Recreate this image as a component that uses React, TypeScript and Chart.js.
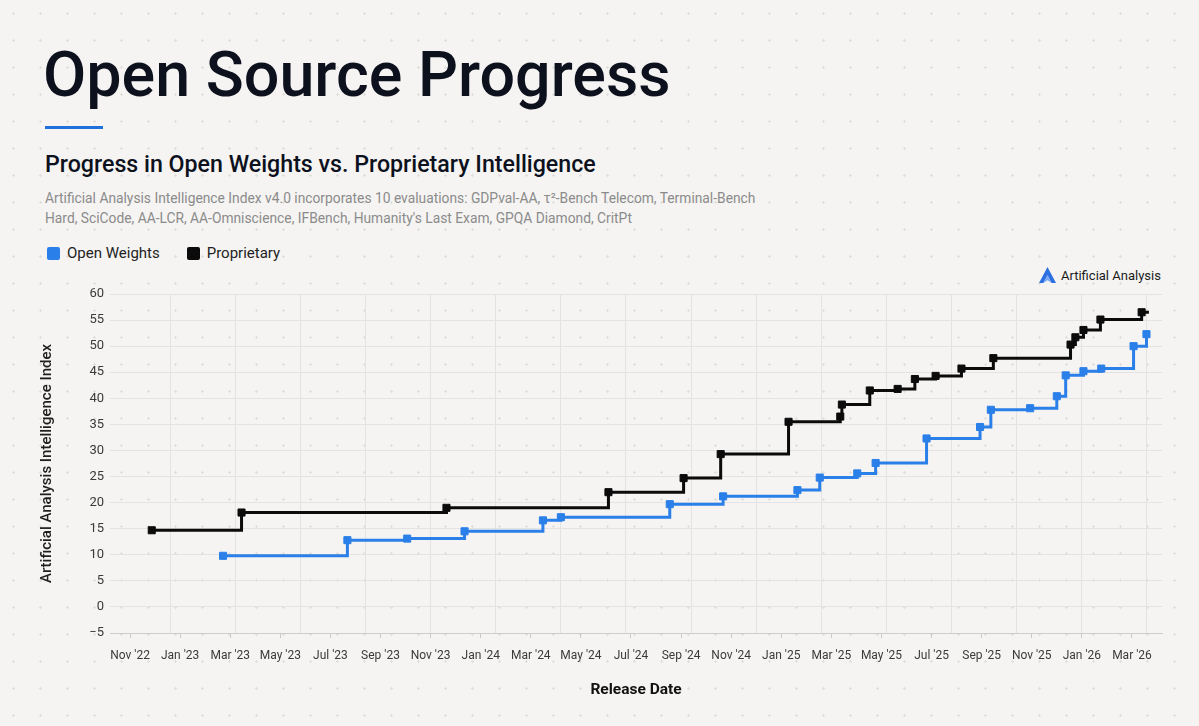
import React, { useEffect, useRef } from "react";
import { Chart, registerables } from "chart.js";

Chart.register(...registerables);

// ---- Data ----
const openWeightsDates = [
  "2023-02-21", "2023-07-22", "2023-10-03", "2023-12-12", "2024-03-16", "2024-04-07",
  "2024-08-18", "2024-10-22", "2025-01-21", "2025-02-16", "2025-04-02", "2025-04-24",
  "2025-06-25", "2025-08-30", "2025-09-12", "2025-10-30", "2025-12-01", "2025-12-12",
  "2026-01-03", "2026-01-25", "2026-03-03", "2026-03-19",
];
const openWeightsValues = [
  9.8, 12.8, 13.1, 14.5, 16.6, 17.2,
  19.7, 21.2, 22.4, 24.8, 25.6, 27.6,
  32.3, 34.5, 37.8, 38.1, 40.4, 44.4,
  45.2, 45.7, 50.0, 52.3,
];

const proprietaryDates = [
  "2022-11-27", "2023-03-15", "2023-11-20", "2024-06-04", "2024-09-04", "2024-10-19",
  "2025-01-10", "2025-03-12", "2025-03-14", "2025-04-17", "2025-05-21", "2025-06-11",
  "2025-07-06", "2025-08-07", "2025-09-15", "2025-12-18", "2025-12-24", "2026-01-03",
  "2026-01-24", "2026-03-13", "2026-03-22",
];
const proprietaryValues = [
  14.7, 18.1, 19.0, 22.0, 24.7, 29.3,
  35.5, 36.5, 38.8, 41.5, 41.8, 43.7,
  44.3, 45.7, 47.7, 50.3, 51.7, 53.1,
  55.1, 56.5, 56.5,
];

const xTickLabels = [
  "Nov '22", "Jan '23", "Mar '23", "May '23", "Jul '23", "Sep '23", "Nov '23",
  "Jan '24", "Mar '24", "May '24", "Jul '24", "Sep '24", "Nov '24",
  "Jan '25", "Mar '25", "May '25", "Jul '25", "Sep '25", "Nov '25",
  "Jan '26", "Mar '26",
];

const FONT = 'Roboto, "Noto Sans", Arial, sans-serif';

// months since 1 Nov 2022 (fractional)
function monthIndex(d: string): number {
  const [y, m, day] = d.split("-").map(Number);
  const dim = new Date(y, m, 0).getDate();
  return (y - 2022) * 12 + (m - 11) + (day - 1) / dim;
}

const X_MIN = -0.8;
const X_MAX = 41.2;

export default function App() {
  const canvasRef = useRef<HTMLCanvasElement | null>(null);

  useEffect(() => {
    const canvas = canvasRef.current;
    if (!canvas) return;
    const openData = openWeightsDates.map((d, i) => ({ x: monthIndex(d), y: openWeightsValues[i] }));
    const propData = proprietaryDates.map((d, i) => ({ x: monthIndex(d), y: proprietaryValues[i] }));
    const lastProp = propData.length - 1;

    const chart = new Chart(canvas, {
      type: "line",
      data: {
        datasets: [
          {
            label: "Open Weights",
            data: openData,
            borderColor: "#2a7fe8",
            backgroundColor: "#2a7fe8",
            borderWidth: 3,
            stepped: "before",
            pointStyle: "rect",
            pointRadius: 5,
            pointBorderWidth: 1,
            pointBorderColor: "#2a7fe8",
            pointBackgroundColor: "#2a7fe8",
          },
          {
            label: "Proprietary",
            data: propData,
            borderColor: "#0b0b0b",
            backgroundColor: "#0b0b0b",
            borderWidth: 3,
            stepped: "before",
            pointStyle: "rect",
            pointRadius: (ctx: any) => (ctx.dataIndex === lastProp ? 0 : 5),
            pointBorderWidth: 1,
            pointBorderColor: "#0b0b0b",
            pointBackgroundColor: "#0b0b0b",
          },
        ],
      },
      options: {
        animation: false,
        responsive: false,
        maintainAspectRatio: false,
        layout: { padding: { left: 30, right: 37, top: 14, bottom: 13 } },
        plugins: {
          legend: { display: false },
          tooltip: { enabled: false },
        },
        scales: {
          x: {
            type: "linear",
            position: "bottom",
            min: X_MIN,
            max: X_MAX,
            afterBuildTicks: (s: any) => {
              s.ticks = xTickLabels.map((_, i) => ({ value: i * 2 }));
            },
            afterFit: (s: any) => {
              s.height = 80;
            },
            ticks: {
              autoSkip: false,
              maxRotation: 0,
              padding: 11,
              color: "#3a3a3a",
              font: { family: FONT, size: 12 },
              callback: (v: any) => xTickLabels[Math.round(Number(v) / 2)] ?? "",
            },
            grid: { drawOnChartArea: false, tickLength: 5, color: "#c9c9c9" },
            border: { display: true, color: "#cdcdcd" },
            title: {
              display: true,
              text: "Release Date",
              color: "#111111",
              font: { family: FONT, size: 15.5, weight: "bold" },
              padding: { top: 0, bottom: 14 },
            },
          },
          xg: {
            type: "linear",
            position: "bottom",
            min: X_MIN,
            max: X_MAX,
            afterBuildTicks: (s: any) => {
              const t: any[] = [];
              for (let k = 0; k < 16; k++) t.push({ value: 1.6 + k * 2.6 });
              s.ticks = t;
            },
            afterFit: (s: any) => {
              s.height = 0;
            },
            ticks: { display: false },
            grid: { color: "#e3e3e3", drawTicks: false },
            border: { display: false },
          },
          y: {
            min: -5,
            max: 60,
            afterFit: (s: any) => {
              s.width = 80;
            },
            ticks: {
              stepSize: 5,
              padding: 6,
              color: "#3a3a3a",
              font: { family: FONT, size: 13 },
              callback: (v: any) => String(v).replace("-", "\u2212"),
            },
            grid: { color: "#e3e3e3", drawTicks: false },
            border: { display: false },
            title: {
              display: true,
              text: "Artificial Analysis Intelligence Index",
              color: "#1e1e1e",
              font: { family: FONT, size: 15, weight: "500" },
              padding: { top: 8, bottom: 0 },
            },
          },
        },
      } as any,
    });
    return () => chart.destroy();
  }, []);

  return (
    <div
      style={{
        position: "fixed",
        left: 0,
        top: 0,
        width: 1199,
        height: 726,
        overflow: "hidden",
        backgroundColor: "#f5f4f2",
        backgroundImage: "radial-gradient(circle, #e0dfdc 1px, transparent 1.2px)",
        backgroundSize: "27px 27px",
        fontFamily: FONT,
      }}
    >
      <div
        style={{
          position: "absolute",
          left: 43,
          top: 44,
          fontSize: 62.8,
          lineHeight: "62px",
          fontWeight: 500,
          color: "#0c111d",
          whiteSpace: "nowrap",
        }}
      >
        Open Source Progress
      </div>
      <div
        style={{
          position: "absolute",
          left: 45,
          top: 126,
          width: 58,
          height: 3,
          backgroundColor: "#1f6fdc",
        }}
      />
      <div
        style={{
          position: "absolute",
          left: 45,
          top: 153,
          fontSize: 23.2,
          lineHeight: "23px",
          fontWeight: 500,
          color: "#0c111d",
          whiteSpace: "nowrap",
        }}
      >
        Progress in Open Weights vs. Proprietary Intelligence
      </div>
      <div
        style={{
          position: "absolute",
          left: 45,
          top: 188,
          fontSize: 13.8,
          lineHeight: "20px",
          color: "#8b8b8b",
          whiteSpace: "nowrap",
        }}
      >
        Artificial Analysis Intelligence Index v4.0 incorporates 10 evaluations: GDPval-AA, τ²-Bench Telecom, Terminal-Bench
        <br />
        Hard, SciCode, AA-LCR, AA-Omniscience, IFBench, Humanity's Last Exam, GPQA Diamond, CritPt
      </div>

      {/* Legend */}
      <div
        style={{
          position: "absolute",
          left: 47,
          top: 244,
          height: 18,
          display: "flex",
          alignItems: "center",
          fontSize: 15,
          color: "#222",
          whiteSpace: "nowrap",
        }}
      >
        <span style={{ display: "inline-block", width: 13, height: 13, borderRadius: 2, background: "#2a7fe8", marginRight: 7 }} />
        <span style={{ marginRight: 27 }}>Open Weights</span>
        <span style={{ display: "inline-block", width: 13, height: 13, borderRadius: 2, background: "#0b0b0b", marginRight: 7 }} />
        <span>Proprietary</span>
      </div>

      {/* Logo */}
      <div
        style={{
          position: "absolute",
          left: 1039,
          top: 266,
          height: 18,
          display: "flex",
          alignItems: "center",
          fontSize: 13,
          color: "#1a1a1a",
          whiteSpace: "nowrap",
        }}
      >
        <svg width="17" height="16" viewBox="0 0 17 16" style={{ marginRight: 5 }}>
          <path d="M8.5 0 L17 16 L12.6 16 L8.5 8.3 L4.4 16 L0 16 Z" fill="#2b6fe0" />
          <path d="M8.5 8.3 L12.6 16 L8.5 13.2 L4.4 16 Z" fill="#7aa8f5" />
        </svg>
        <span>Artificial Analysis</span>
      </div>

      <canvas
        ref={canvasRef}
        width={1199}
        height={446}
        style={{ position: "absolute", left: 0, top: 280, width: 1199, height: 446 }}
      />
    </div>
  );
}
